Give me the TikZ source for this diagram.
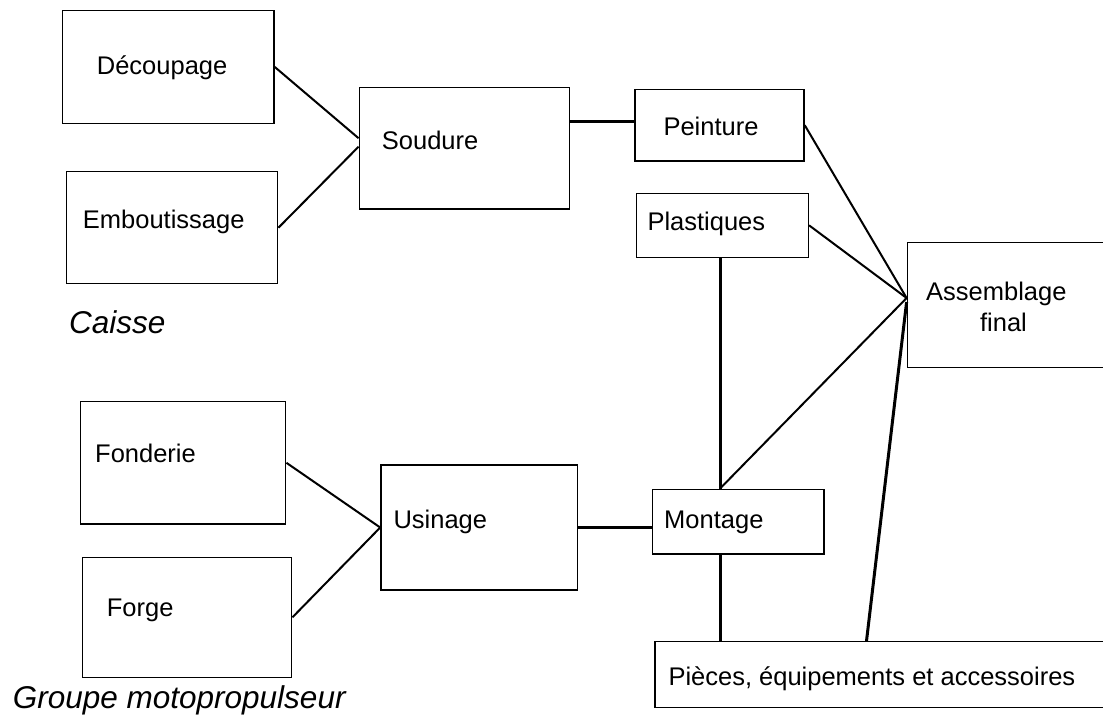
\documentclass[tikz,border=0pt]{standalone}
\usepackage{fontspec}
\setmainfont{Liberation Sans}
\begin{document}
\begin{tikzpicture}[x=1pt,y=-1pt,
  box/.style={draw=black, line width=1.5pt, rectangle, inner sep=0pt},
  lbl/.style={anchor=base west, inner sep=0pt, font=\fontsize{25.5}{30}\selectfont},
  capt/.style={anchor=base west, inner sep=0pt, font=\fontsize{31.5}{36}\selectfont\itshape},
  link/.style={line width=2pt},
  thicklink/.style={line width=3pt}]
\clip (0,0) rectangle (1103,716);
\fill[white] (0,0) rectangle (1103,716);

% boxes
\node[box, minimum width=211.7pt, minimum height=112.6pt] (dec) at (168.2,67) {};
\node[box, minimum width=211pt, minimum height=112pt] (emb) at (172.2,227.7) {};
\node[box, minimum width=210pt, minimum height=121.7pt] (sou) at (464.3,148.2) {};
\node[box, minimum width=169pt, minimum height=71.7pt] (pei) at (719.5,125.2) {};
\node[box, minimum width=171.6pt, minimum height=64pt] (pla) at (722.5,225.3) {};
\node[box, minimum width=200.7pt, minimum height=124.6pt] (ass) at (1007.7,305) {};
\node[box, minimum width=205pt, minimum height=122.3pt] (fon) at (183.2,462.8) {};
\node[box, minimum width=209pt, minimum height=120pt] (for) at (187.2,617.3) {};
\node[box, minimum width=196.7pt, minimum height=125pt] (usi) at (479.3,527.5) {};
\node[box, minimum width=171.3pt, minimum height=64.7pt] (mon) at (738.3,521.7) {};
\node[box, minimum width=453pt, minimum height=65.6pt] (pie) at (881.5,674.5) {};

% labels
\node[lbl] (tdec) at (96.7,74) {Découpage};
\node[lbl] (temb) at (82.7,228) {Emboutissage};
\node[lbl] (tsou) at (381.7,149) {Soudure};
\node[lbl] (tpei) at (663.3,135) {Peinture};
\node[lbl] (tpla) at (647.3,230) {Plastiques};
\node[lbl, anchor=base] (tass1) at (996.3,300) {Assemblage};
\node[lbl, anchor=base] (tass2) at (1003.5,331) {final};
\node[lbl] (tfon) at (95,462) {Fonderie};
\node[lbl] (tfor) at (106.7,616) {Forge};
\node[lbl] (tusi) at (393.3,528) {Usinage};
\node[lbl] (tmon) at (664,528) {Montage};
\node[lbl] (tpie) at (668.3,685) {Pièces, équipements et accessoires};
\node[capt] (caisse) at (69,333) {Caisse};
\node[capt] (gmp) at (12.7,708.5) {Groupe motopropulseur};

% connectors
\coordinate (pw) at ([yshift=3.5pt]pei.west);
\coordinate (aJ) at ([yshift=7pt]ass.west);
\coordinate (vx) at ([xshift=-2.5pt]pla.south);
\draw[link] (dec.east) -- ([yshift=10pt]sou.west);
\draw[link] (emb.east) -- ([yshift=1.5pt]sou.west);
\draw[thicklink] (sou.east |- pw) -- (pw);
\draw[link] (pei.east) -- (aJ);
\draw[link] (pla.east) -- (aJ);
\draw[thicklink] (vx) -- (vx |- mon.north);
\draw[link] (vx |- mon.north) -- (aJ);
\draw[thicklink] (usi.east) -- (mon.west |- usi.east);
\draw[thicklink] (vx |- mon.south) -- (vx |- pie.north);
\draw[thicklink] ([xshift=-15pt]pie.north) -- ([yshift=3pt]ass.west);
\draw[link] (fon.east) -- (usi.west);
\draw[link] (for.east) -- (usi.west);
\end{tikzpicture}
\end{document}
